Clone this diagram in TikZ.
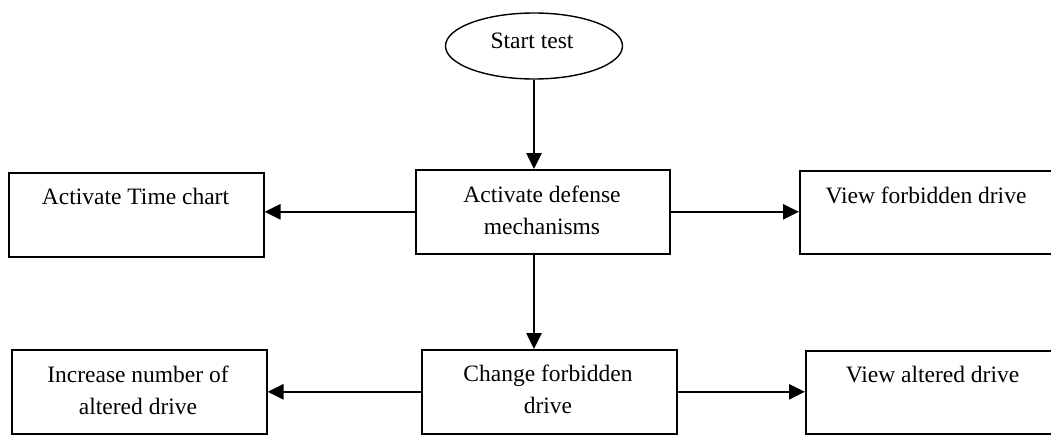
\documentclass[tikz,border=0pt]{standalone}
\usepackage{fontspec}
\setmainfont{Liberation Serif}
\usetikzlibrary{arrows.meta,shapes.geometric}
\begin{document}
\begin{tikzpicture}[x=1pt,y=-1pt,
  box/.style={draw, line width=1.6pt, rectangle, inner sep=0pt, anchor=north west,
              minimum width=255pt, minimum height=84pt},
  label text/.style={anchor=base, inner sep=0pt, font=\fontsize{23.5}{32}\selectfont},
  flow/.style={line width=2.6pt, -{Triangle[length=16pt,width=15pt]}}]
  \useasboundingbox (0,0) rectangle (1051,434);
  \clip (0,0) rectangle (1051,434);

  % start terminal
  \node[draw, ellipse, line width=1.4pt, minimum width=177pt, minimum height=66pt,
        inner sep=0pt] (start) at (534,46) {};
  \node[label text] (starttxt) at (532,48) {Start test};

  % process boxes (the right-hand column runs past the page edge)
  \node[box] (time)   at (8,172)   {};
  \node[box, minimum width=254pt] (act) at (415,169) {};
  \node[box, minimum width=280pt, minimum height=83pt] (viewf) at (799,170) {};
  \node[box] (inc)    at (11,349)  {};
  \node[box] (change) at (421,349) {};
  \node[box, minimum width=280pt, minimum height=83pt] (viewa) at (805,350) {};

  % box texts (top aligned)
  \node[label text] (timetxt) at (135.5,204) {Activate Time chart};
  \node[label text] (acttxt) at (542,202)
    {\parbox[t]{250pt}{\centering Activate defense\\ mechanisms}};
  \node[label text] (viewftxt) at (926,203) {View forbidden drive};
  \node[label text] (inctxt) at (138,382)
    {\parbox[t]{250pt}{\centering Increase number of\\ altered drive}};
  \node[label text] (changetxt) at (548,381)
    {\parbox[t]{250pt}{\centering Change forbidden\\ drive}};
  \node[label text] (viewatxt) at (932.5,382) {View altered drive};

  % connectors
  \draw[flow] (start.south) -- (start.south |- act.north);
  \draw[flow] (act.west) -- (act.west -| time.east);
  \draw[flow] (act.east) -- (act.east -| viewf.west);
  \draw[flow] (start.south |- act.south) -- (start.south |- change.north);
  \draw[flow] (change.west) -- (change.west -| inc.east);
  \draw[flow] (change.east) -- (change.east -| viewa.west);
\end{tikzpicture}
\end{document}
